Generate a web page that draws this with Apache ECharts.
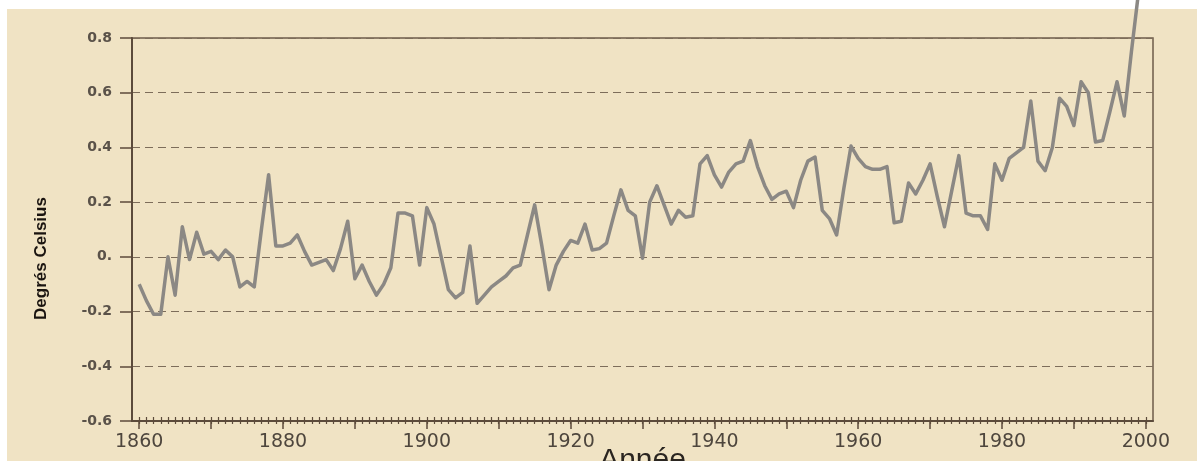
<!DOCTYPE html>
<html>
<head>
<meta charset="utf-8">
<script src="https://cdn.jsdelivr.net/npm/echarts@6/dist/echarts.min.js"></script>
<style>
html,body{margin:0;padding:0;background:#ffffff;}
#chart{width:1197px;height:461px;}
</style>
</head>
<body>
<div id="chart"></div>
<script>
// ---- data ----
const years = [
1860,1861,1862,1863,1864,1865,1866,1867,1868,1869,
1870,1871,1872,1873,1874,1875,1876,1877,1878,1879,
1880,1881,1882,1883,1884,1885,1886,1887,1888,1889,
1890,1891,1892,1893,1894,1895,1896,1897,1898,1899,
1900,1901,1902,1903,1904,1905,1906,1907,1908,1909,
1910,1911,1912,1913,1914,1915,1916,1917,1918,1919,
1920,1921,1922,1923,1924,1925,1926,1927,1928,1929,
1930,1931,1932,1933,1934,1935,1936,1937,1938,1939,
1940,1941,1942,1943,1944,1945,1946,1947,1948,1949,
1950,1951,1952,1953,1954,1955,1956,1957,1958,1959,
1960,1961,1962,1963,1964,1965,1966,1967,1968,1969,
1970,1971,1972,1973,1974,1975,1976,1977,1978,1979,
1980,1981,1982,1983,1984,1985,1986,1987,1988,1989,
1990,1991,1992,1993,1994,1995,1996,1997,1998,1999
];
const anomalies = [
-0.10,-0.16,-0.21,-0.21,0.00,-0.14,0.11,-0.01,0.09,0.01,
0.02,-0.01,0.025,0.00,-0.11,-0.09,-0.11,0.10,0.30,0.04,
0.04,0.05,0.08,0.02,-0.03,-0.02,-0.01,-0.05,0.03,0.13,
-0.08,-0.03,-0.09,-0.14,-0.10,-0.04,0.16,0.16,0.15,-0.03,
0.18,0.12,0.00,-0.12,-0.15,-0.13,0.04,-0.17,-0.14,-0.11,
-0.09,-0.07,-0.04,-0.03,0.08,0.19,0.04,-0.12,-0.03,0.02,
0.06,0.05,0.12,0.025,0.03,0.05,0.15,0.245,0.17,0.15,
-0.005,0.20,0.26,0.19,0.12,0.17,0.145,0.15,0.34,0.37,
0.30,0.255,0.31,0.34,0.35,0.425,0.33,0.26,0.21,0.23,
0.24,0.18,0.28,0.35,0.365,0.17,0.14,0.08,0.25,0.405,
0.36,0.33,0.32,0.32,0.33,0.125,0.13,0.27,0.23,0.28,
0.34,0.22,0.11,0.24,0.37,0.16,0.15,0.15,0.10,0.34,
0.28,0.36,0.38,0.40,0.57,0.35,0.315,0.40,0.58,0.55,
0.48,0.64,0.60,0.42,0.425,0.53,0.64,0.515,0.75,0.97
];
const xLabelYears = [1860,1880,1900,1920,1940,1960,1980,2000];
const xMajorTickYears = [1860,1870,1880,1890,1900,1910,1920,1930,1940,1950,1960,1970,1980,1990,2000];
const yTickLabels = ['-0.6','-0.4','-0.2','0.','0.2','0.4','0.6','0.8'];
const yAxisTitle = 'Degrés Celsius';
const xAxisTitle = 'Année';

// every-year minor tick positions
const xMinorTickYears = [];
for (let y = 1860; y <= 2000; y++) xMinorTickYears.push(y);

const seriesData = years.map((y, i) => [y, anomalies[i]]);

const AXIS = '#5c4b3b';
const GRID_BOX = {left: 132, right: 44, top: 38, bottom: 40, outerBoundsMode: 'none', containLabel: false};
const hiddenY = gi => ({type: 'value', gridIndex: gi, min: -0.6, max: 0.8, show: false});
const minorX = (gi, inside, len) => ({
  type: 'value', gridIndex: gi, min: 1859, max: 2001, position: 'bottom',
  axisLine: {show: false, onZero: false},
  axisTick: {show: true, inside: inside, customValues: xMinorTickYears, length: len, lineStyle: {color: AXIS, width: 1.2}},
  axisLabel: {show: false},
  splitLine: {show: false}
});

const chart = echarts.init(document.getElementById('chart'), null, {renderer: 'canvas'});
chart.setOption({
  animation: false,
  backgroundColor: 'transparent',
  graphic: [{
    type: 'rect', z: -10, silent: true,
    shape: {x: 7, y: 9, width: 1190, height: 452},
    style: {fill: '#f0e3c4'}
  }],
  grid: [
    Object.assign({show: true, borderColor: '#6e5c49', borderWidth: 1.5, backgroundColor: 'transparent'}, GRID_BOX),
    Object.assign({show: false}, GRID_BOX),
    Object.assign({show: false}, GRID_BOX)
  ],
  xAxis: [{
    type: 'value', gridIndex: 0, min: 1859, max: 2001, position: 'bottom',
    name: xAxisTitle, nameLocation: 'middle', nameGap: 25, nameMoveOverlap: false,
    nameTextStyle: {fontFamily: 'Liberation Sans', fontSize: 30, color: '#2a2520', verticalAlign: 'top'},
    axisLine: {show: true, onZero: false, lineStyle: {color: AXIS, width: 2}},
    axisTick: {show: true, customValues: xMajorTickYears, length: 8, lineStyle: {color: AXIS, width: 1.5}},
    axisLabel: {show: true, customValues: xLabelYears, margin: 12,
      fontFamily: 'DejaVu Sans', fontSize: 19, color: '#4e463d',
      formatter: v => String(v)},
    splitLine: {show: false}
  }, minorX(1, true, 4), minorX(2, false, 3)],
  yAxis: [{
    type: 'value', gridIndex: 0, min: -0.6, max: 0.8, interval: 0.2,
    name: yAxisTitle, nameLocation: 'middle', nameRotate: 90, nameGap: 82,
    nameTextStyle: {fontFamily: 'Liberation Sans', fontWeight: 'bold', fontSize: 17, color: '#1a1410',
      padding: [0, 58, 0, 0]},
    axisLine: {show: true, lineStyle: {color: AXIS, width: 2}},
    axisTick: {show: true, length: 12, lineStyle: {color: AXIS, width: 1.5}},
    axisLabel: {margin: 20, fontFamily: 'DejaVu Sans', fontSize: 14, fontWeight: 'bold', color: '#5a5249',
      formatter: (v, i) => yTickLabels[i]},
    splitLine: {show: true, lineStyle: {color: '#7d6d5a', width: 1.2, type: [8, 5]}}
  }, hiddenY(1), hiddenY(2)],
  series: [{
    type: 'line', xAxisIndex: 0, yAxisIndex: 0, data: seriesData,
    showSymbol: false, symbol: 'none', clip: false,
    lineStyle: {color: '#8b8884', width: 3.5, join: 'round'}
  }]
});
</script>
</body>
</html>
